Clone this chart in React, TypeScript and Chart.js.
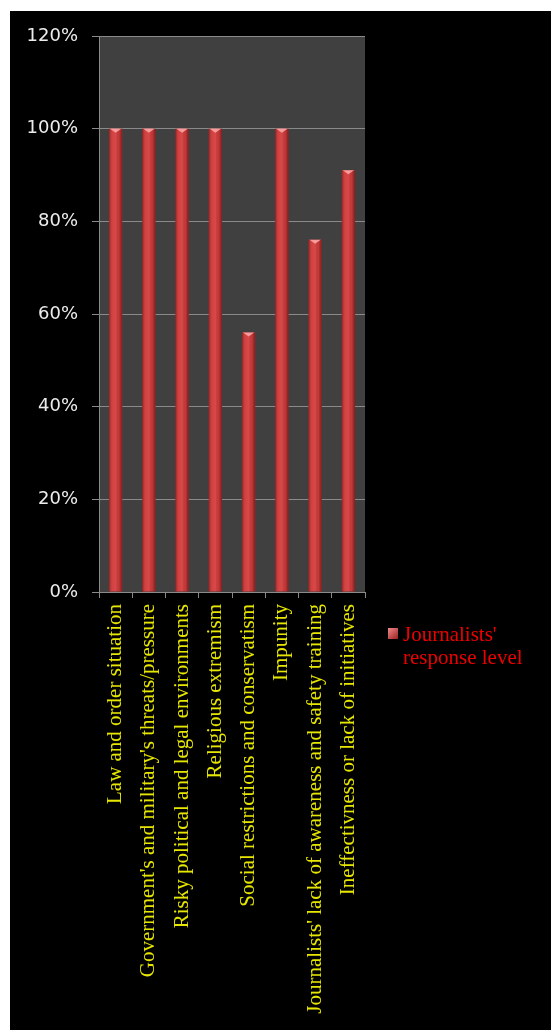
import { useEffect, useRef } from "react";
import { Chart, registerables } from "chart.js";

Chart.register(...registerables);

const categories: string[] = [
  "Law and order situation",
  "Government's and military's threats/pressure",
  "Risky political and legal environments",
  "Religious extremism",
  "Social restrictions and conservatism",
  "Impunity",
  "Journalists' lack of awareness and safety training",
  "Ineffectivness or lack of initiatives",
];
const responseLevel: number[] = [100, 100, 100, 100, 56, 100, 76, 91];
const legendLines: string[] = ["Journalists'", "response level"];
const yMax = 120;
const yStep = 20;

const W = 541;
const H = 1019;

export default function App() {
  const ref = useRef<HTMLCanvasElement | null>(null);

  useEffect(() => {
    const canvas = ref.current;
    if (!canvas) return;

    const bgPlugin = {
      id: "bgPlugin",
      beforeDraw(chart: any) {
        const { ctx, chartArea } = chart;
        ctx.save();
        ctx.fillStyle = "#000000";
        ctx.fillRect(0, 0, chart.width, chart.height);
        ctx.fillStyle = "#404040";
        ctx.fillRect(chartArea.left, chartArea.top, chartArea.right - chartArea.left, chartArea.bottom - chartArea.top);
        ctx.restore();
      },
    };

    const barShade = {
      id: "barShade",
      afterDatasetsDraw(chart: any) {
        const { ctx } = chart;
        const meta = chart.getDatasetMeta(0);
        ctx.save();
        meta.data.forEach((el: any) => {
          const p = el.getProps(["x", "y", "base", "width"], true);
          const l = p.x - p.width / 2;
          const r = p.x + p.width / 2;
          const g = ctx.createLinearGradient(l, 0, r, 0);
          g.addColorStop(0, "rgba(60,0,0,0.45)");
          g.addColorStop(0.3, "rgba(255,120,120,0.12)");
          g.addColorStop(0.5, "rgba(255,140,140,0.18)");
          g.addColorStop(0.75, "rgba(0,0,0,0.05)");
          g.addColorStop(1, "rgba(60,0,0,0.5)");
          ctx.fillStyle = g;
          ctx.fillRect(l, p.y, p.width, p.base - p.y);
          ctx.fillStyle = "rgba(255,170,170,0.85)";
          ctx.beginPath();
          ctx.moveTo(l + 1, p.y);
          ctx.lineTo(r - 1, p.y);
          ctx.lineTo(p.x, p.y + 4);
          ctx.closePath();
          ctx.fill();
        });
        ctx.restore();
      },
    };

    const legendPlugin = {
      id: "legendPlugin",
      afterDraw(chart: any) {
        const { ctx, chartArea } = chart;
        const x0 = chartArea.right + 23;
        const y0 = 617;
        ctx.save();
        const g = ctx.createLinearGradient(x0, y0, x0 + 10, y0 + 11);
        g.addColorStop(0, "#f08a8a");
        g.addColorStop(1, "#9a2020");
        ctx.fillStyle = g;
        ctx.fillRect(x0, y0, 10, 11);
        ctx.fillStyle = "#ee0000";
        ctx.font = "21px 'Liberation Serif', serif";
        ctx.textAlign = "left";
        ctx.textBaseline = "alphabetic";
        legendLines.forEach((line, i) => {
          ctx.fillText(line, x0 + 15, 630 + i * 23);
        });
        ctx.restore();
      },
    };

    const chart = new Chart(canvas, {
      type: "bar",
      data: {
        labels: categories,
        datasets: [
          {
            label: legendLines.join(" "),
            data: responseLevel,
            backgroundColor: "#cf3b3b",
            borderWidth: 0,
            barPercentage: 0.4,
            categoryPercentage: 1,
          },
        ],
      },
      options: {
        responsive: false,
        animation: false,
        devicePixelRatio: 1,
        layout: { padding: { top: 25, right: 186, left: 0, bottom: 0 } },
        plugins: {
          legend: { display: false },
          tooltip: { enabled: false },
        },
        scales: {
          x: {
            grid: {
              display: true,
              drawOnChartArea: false,
              drawTicks: true,
              tickLength: 6,
              color: "#8a8a8a",
              offset: true,
            },
            border: { display: true, color: "#8a8a8a", width: 1 },
            ticks: {
              color: "#e6e600",
              font: { family: "'Liberation Serif', serif", size: 21 },
              minRotation: 90,
              maxRotation: 90,
              autoSkip: false,
              padding: 6,
            },
            afterFit: (s: any) => {
              s.height = H - 581;
            },
          },
          y: {
            min: 0,
            max: yMax,
            ticks: {
              stepSize: yStep,
              color: "#ececec",
              font: { family: "'DejaVu Sans', sans-serif", size: 18 },
              padding: 14,
              callback: (v: any) => v + "%",
            },
            grid: { color: "#8a8a8a", tickLength: 7, lineWidth: 1 },
            border: { display: true, color: "#8a8a8a", width: 1 },
            afterFit: (s: any) => {
              s.width = 89;
            },
          },
        },
      },
      plugins: [bgPlugin, barShade, legendPlugin],
    });

    return () => chart.destroy();
  }, []);

  return (
    <div style={{ position: "absolute", left: 10, top: 11, width: W, height: H, background: "#000" }}>
      <canvas ref={ref} width={W} height={H} style={{ width: W, height: H, display: "block" }} />
    </div>
  );
}
